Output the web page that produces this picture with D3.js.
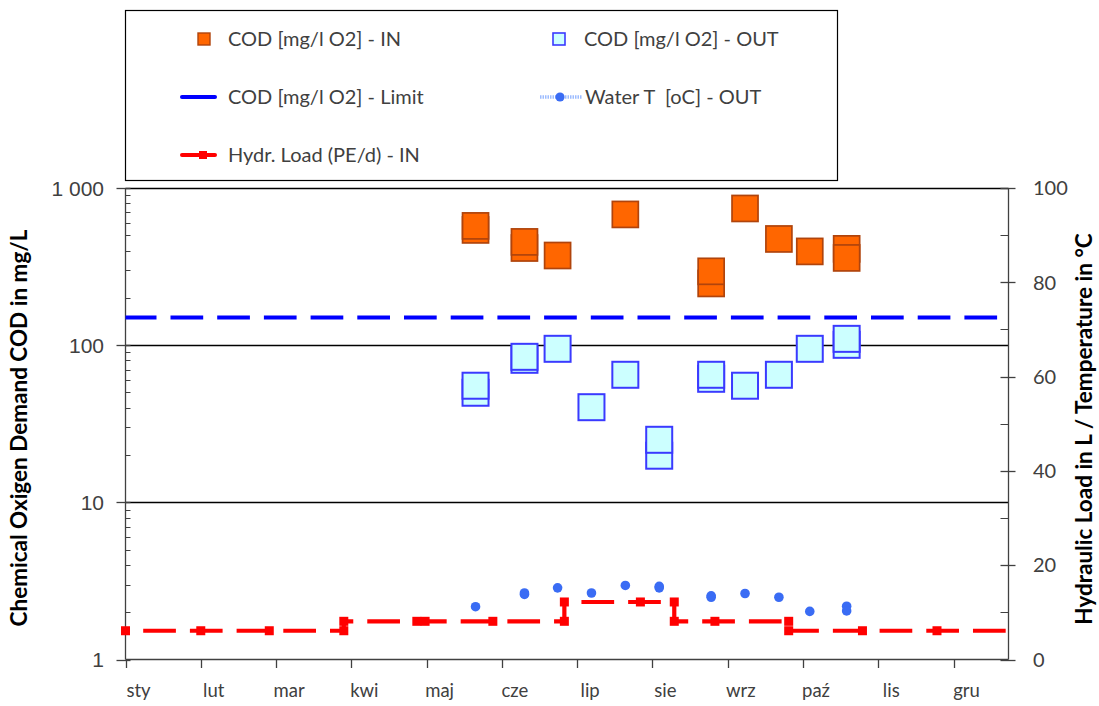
<!DOCTYPE html>
<html>
<head>
<meta charset="utf-8">
<script src="https://cdn.jsdelivr.net/npm/d3@7"></script>
<style>
  body { margin: 0; background: #fff; }
  svg text { font-family: Lato, "Open Sans", sans-serif; fill: #404040; }
</style>
</head>
<body>
<div id="chart"></div>
<script>
// size of the page
const width = 1099
const height = 706

// month labels (polish)
const months = ["sty", "lut", "mar", "kwi", "maj", "cze", "lip", "sie", "wrz", "paź", "lis", "gru"]

// COD inflow, sample dates as month fraction (same date twice = two samples)
const codInMonth = [4.65, 4.65, 5.30, 5.30, 5.74, 6.64, 7.78, 7.78, 8.23, 8.68, 9.09, 9.58, 9.58]
const codInValue = [541, 574, 415, 454, 372, 679, 247, 295, 741, 474, 395, 410, 359]

// COD outflow
const codOutMonth = [4.65, 4.65, 5.30, 5.30, 5.74, 6.19, 6.64, 7.09, 7.09, 7.78, 7.78, 8.23, 8.68, 9.09, 9.58, 9.58]
const codOutValue = [49.8, 55.2, 80.7, 84.3, 94.8, 40.3, 64.8, 19.8, 25.0, 61.1, 64.8, 55.2, 64.8, 94.8, 100.5, 109.7]

// COD limit
const codLimit = 150

// water temperature out
const tempMonth = [4.65, 5.30, 5.30, 5.74, 6.19, 6.64, 7.09, 7.09, 7.78, 7.78, 8.23, 8.68, 9.09, 9.58, 9.58]
const tempValue = [11.2, 13.8, 14.1, 15.2, 14.1, 15.7, 15.2, 15.5, 13.2, 13.5, 14.0, 13.2, 10.2, 11.3, 10.3]

// hydraulic load in (step line)
const loadMonth = [0, 1.0, 1.91, 2.90, 2.90, 3.87, 3.98, 4.88, 5.83, 5.83, 6.84, 7.29, 7.29, 7.83, 8.81, 8.81, 9.79, 10.78, 11.73]
const loadValue = [6.1, 6.1, 6.1, 6.1, 8.1, 8.1, 8.1, 8.1, 8.1, 12.2, 12.2, 12.2, 8.1, 8.1, 8.1, 6.1, 6.1, 6.1, 6.1]

const monthMax = 11.73

// scales
var x = d3.scaleLinear().domain([0, monthMax]).range([125.5, 1008.5])
var yCod = d3.scaleLog().domain([1, 1000]).range([659.5, 188])
var yRight = d3.scaleLinear().domain([0, 100]).range([659.5, 188])

var svg = d3.select("#chart")
            .append("svg")
            .attr("width", width)
            .attr("height", height)

svg.append("rect").attr("width", width).attr("height", height).attr("fill", "white")

// gridlines at decades
svg.append("g")
   .selectAll("line")
   .data([10, 100, 1000])
   .enter()
   .append("line")
   .attr("x1", x(0)).attr("x2", x(monthMax))
   .attr("y1", d => Math.round(yCod(d)) + 0.5)
   .attr("y2", d => Math.round(yCod(d)) + 0.5)
   .attr("stroke", "#000")
   .attr("stroke-width", 1.3)

// left axis (log)
var minorLeft = []
for (var dec = 1; dec < 1000; dec *= 10) {
  for (var m = 2; m <= 9; m++) minorLeft.push(dec * m)
}
var leftAxis = svg.append("g")
leftAxis.append("line")
   .attr("x1", x(0)).attr("x2", x(0))
   .attr("y1", yCod(1000)).attr("y2", yCod(1))
   .attr("stroke", "#404040").attr("stroke-width", 1.3)
leftAxis.selectAll(".minor")
   .data(minorLeft).enter().append("line")
   .attr("x1", x(0)).attr("x2", x(0) + 5)
   .attr("y1", d => Math.round(yCod(d)) + 0.5).attr("y2", d => Math.round(yCod(d)) + 0.5)
   .attr("stroke", "#404040")
leftAxis.selectAll(".major")
   .data([1, 10, 100, 1000]).enter().append("line")
   .attr("x1", x(0) - 9).attr("x2", x(0) + 5)
   .attr("y1", d => Math.round(yCod(d)) + 0.5).attr("y2", d => Math.round(yCod(d)) + 0.5)
   .attr("stroke", "#404040").attr("stroke-width", 1.3)

var fmtSpace = d3.formatLocale({decimal: ",", thousands: " ", grouping: [3], currency: ["", ""]}).format(",")
leftAxis.selectAll("text")
   .data([1, 10, 100, 1000]).enter().append("text")
   .attr("x", 104)
   .attr("y", d => yCod(d))
   .attr("dy", "0.36em")
   .attr("text-anchor", "end")
   .style("font-family", "'Liberation Sans', Arial, sans-serif")
   .style("font-size", "21px")
   .text(d => fmtSpace(d))

// right axis (linear)
var rightAxis = svg.append("g")
rightAxis.append("line")
   .attr("x1", x(monthMax)).attr("x2", x(monthMax))
   .attr("y1", yRight(100)).attr("y2", yRight(0))
   .attr("stroke", "#404040").attr("stroke-width", 1.3)
rightAxis.selectAll(".minor")
   .data(d3.range(10, 100, 20)).enter().append("line")
   .attr("x1", x(monthMax) - 8).attr("x2", x(monthMax))
   .attr("y1", d => Math.round(yRight(d)) + 0.5).attr("y2", d => Math.round(yRight(d)) + 0.5)
   .attr("stroke", "#404040")
rightAxis.selectAll(".major")
   .data(d3.range(0, 101, 20)).enter().append("line")
   .attr("x1", x(monthMax) - 8).attr("x2", x(monthMax) + 7)
   .attr("y1", d => Math.round(yRight(d)) + 0.5).attr("y2", d => Math.round(yRight(d)) + 0.5)
   .attr("stroke", "#404040").attr("stroke-width", 1.3)
rightAxis.selectAll("text")
   .data(d3.range(0, 101, 20)).enter().append("text")
   .attr("x", 1033)
   .attr("y", d => yRight(d))
   .attr("dy", "0.36em")
   .style("font-size", "20px")
   .text(d => d)

// x axis
var xAxis = svg.append("g")
xAxis.append("line")
   .attr("x1", x(0)).attr("x2", x(monthMax))
   .attr("y1", 659.5).attr("y2", 659.5)
   .attr("stroke", "#404040").attr("stroke-width", 1.3)
xAxis.selectAll(".tick")
   .data(months).enter().append("line")
   .attr("x1", (d, i) => Math.round(x(i)) + 0.5).attr("x2", (d, i) => Math.round(x(i)) + 0.5)
   .attr("y1", 659.5).attr("y2", 668)
   .attr("stroke", "#404040").attr("stroke-width", 1.3)
xAxis.selectAll("text")
   .data(months).enter().append("text")
   .attr("x", (d, i) => x(i) + 13)
   .attr("y", 697)
   .attr("text-anchor", "middle")
   .style("font-size", "18.5px")
   .text(d => d)

// axis titles
svg.append("text")
   .attr("transform", "translate(27," + 428 + ") rotate(-90)")
   .attr("text-anchor", "middle")
   .style("font-size", "22.5px").style("font-weight", "bold").style("fill", "#000")
   .text("Chemical Oxigen Demand COD in mg/L")
svg.append("text")
   .attr("transform", "translate(1092," + 429 + ") rotate(-90)")
   .attr("text-anchor", "middle")
   .style("font-size", "22.5px").style("font-weight", "bold").style("fill", "#000")
   .text("Hydraulic Load in L / Temperature in °C")

// limit line
svg.append("path")
   .datum([0, monthMax])
   .attr("d", d3.line().x(d => x(d)).y(() => yCod(codLimit)))
   .attr("fill", "none")
   .attr("stroke", "#0000ff")
   .attr("stroke-width", 4.2)
   .attr("stroke-dasharray", "32.7,14")
   .attr("stroke-dashoffset", 1.7)

// hydraulic load step line
var loadPts = loadMonth.map((m, i) => [m, loadValue[i]])
svg.append("path")
   .datum(loadPts)
   .attr("d", d3.line().x(d => x(d[0])).y(d => yRight(d[1])))
   .attr("fill", "none")
   .attr("stroke", "#ff0000")
   .attr("stroke-width", 4.2)
   .attr("stroke-dasharray", "32.7,14")
   .attr("stroke-dashoffset", 29)
svg.append("g")
   .selectAll("rect")
   .data(loadPts.filter(d => d[0] < monthMax))
   .enter().append("rect")
   .attr("x", d => x(d[0]) - 4.5)
   .attr("y", d => yRight(d[1]) - 4.5)
   .attr("width", 9).attr("height", 9)
   .attr("fill", "#ff0000")

// water temperature dots
svg.append("g")
   .selectAll("circle")
   .data(tempMonth.map((m, i) => [m, tempValue[i]]))
   .enter().append("circle")
   .attr("cx", d => x(d[0]))
   .attr("cy", d => yRight(d[1]))
   .attr("r", 4.8)
   .attr("fill", "#3a6cf4")

// COD squares
const sq = 26
svg.append("g")
   .selectAll("rect")
   .data(codInMonth.map((m, i) => [m, codInValue[i]]))
   .enter().append("rect")
   .attr("x", d => x(d[0]) - sq / 2)
   .attr("y", d => yCod(d[1]) - sq / 2)
   .attr("width", sq).attr("height", sq)
   .attr("fill", "#ff6600")
   .attr("stroke", "#b0440c")
   .attr("stroke-width", 1.7)

svg.append("g")
   .selectAll("rect")
   .data(codOutMonth.map((m, i) => [m, codOutValue[i]]))
   .enter().append("rect")
   .attr("x", d => x(d[0]) - sq / 2)
   .attr("y", d => yCod(d[1]) - sq / 2)
   .attr("width", sq).attr("height", sq)
   .attr("fill", "#ccffff")
   .attr("stroke", "#3a3aff")
   .attr("stroke-width", 2)

// legend
var legend = svg.append("g")
legend.append("rect")
   .attr("x", 125.5).attr("y", 10.5)
   .attr("width", 712).attr("height", 170)
   .attr("fill", "white")
   .attr("stroke", "#000").attr("stroke-width", 1.2)

legend.append("rect")
   .attr("x", 198).attr("y", 33).attr("width", 12).attr("height", 12)
   .attr("fill", "#ff6600").attr("stroke", "#b0440c").attr("stroke-width", 1.4)
legend.append("rect")
   .attr("x", 553).attr("y", 33).attr("width", 12).attr("height", 12)
   .attr("fill", "#ccffff").attr("stroke", "#3a3aff").attr("stroke-width", 1.6)
legend.append("line")
   .attr("x1", 182).attr("x2", 215).attr("y1", 97).attr("y2", 97)
   .attr("stroke", "#0000ff").attr("stroke-width", 4).attr("stroke-linecap", "round")
legend.append("line")
   .attr("x1", 540).attr("x2", 582).attr("y1", 97).attr("y2", 97)
   .attr("stroke", "#9dbcff").attr("stroke-width", 3.5).attr("stroke-dasharray", "1.5,1")
legend.append("circle")
   .attr("cx", 560).attr("cy", 97).attr("r", 4.6).attr("fill", "#3a6cf4")
legend.append("line")
   .attr("x1", 182).attr("x2", 215).attr("y1", 155).attr("y2", 155)
   .attr("stroke", "#ff0000").attr("stroke-width", 4).attr("stroke-linecap", "round")
legend.append("rect")
   .attr("x", 199).attr("y", 151).attr("width", 8).attr("height", 8)
   .attr("fill", "#ff0000")

var legendText = [
  ["COD [mg/l O2] - IN", 228, 39],
  ["COD [mg/l O2] - OUT", 584, 39],
  ["COD [mg/l O2] - Limit", 228, 97],
  ["Water T  [oC] - OUT", 585, 97],
  ["Hydr. Load (PE/d) - IN", 228, 155]
]
legend.selectAll("text")
   .data(legendText).enter().append("text")
   .attr("x", d => d[1]).attr("y", d => d[2])
   .attr("dy", "0.35em")
   .attr("xml:space", "preserve")
   .style("white-space", "pre")
   .style("font-size", "20px")
   .text(d => d[0])
</script>
</body>
</html>
